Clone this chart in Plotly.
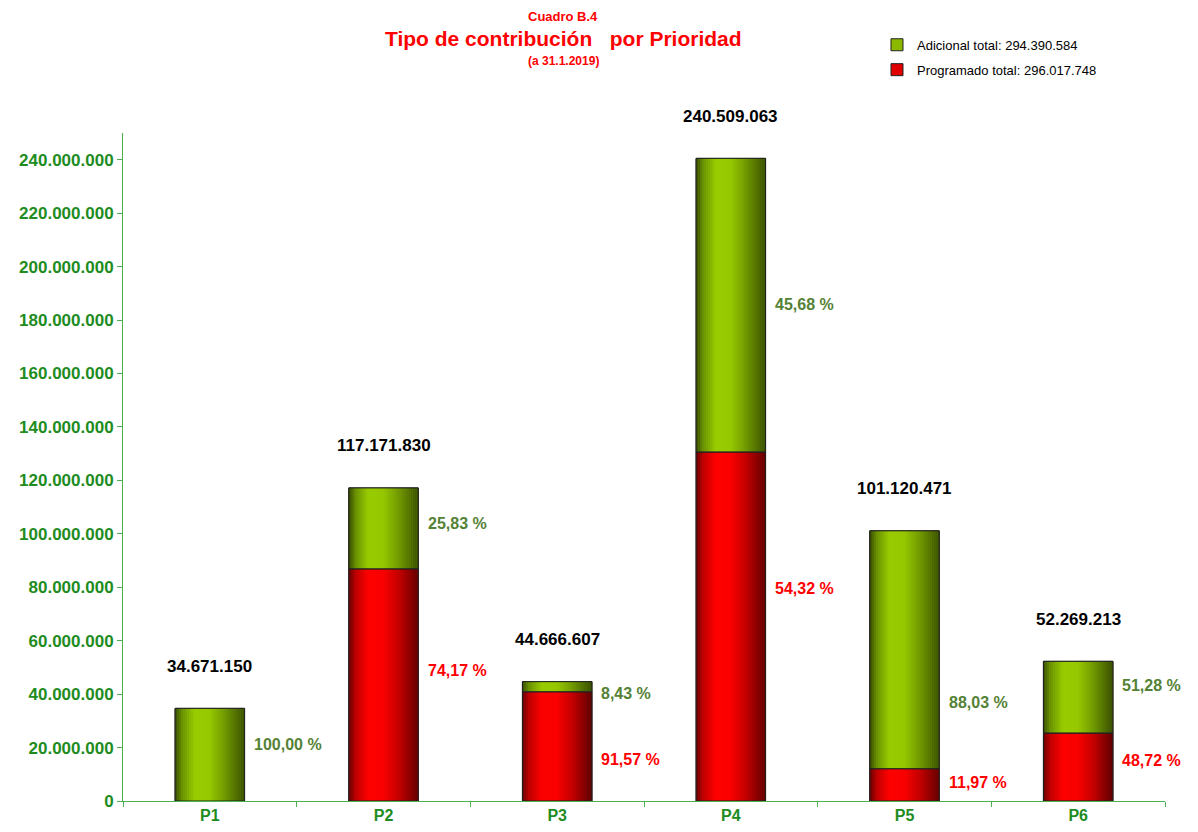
import plotly.graph_objects as go

categories = ["P1", "P2", "P3", "P4", "P5", "P6"]
totals = [34671150, 117171830, 44666607, 240509063, 101120471, 52269213]
programado = [0, 86906346, 40901212, 130644523, 12104120, 25465560]
adicional = [34671150, 30265484, 3765395, 109864540, 89016351, 26803653]
pct_adicional = ["100,00 %", "25,83 %", "8,43 %", "45,68 %", "88,03 %", "51,28 %"]
pct_programado = [None, "74,17 %", "91,57 %", "54,32 %", "11,97 %", "48,72 %"]
legend_adicional = "Adicional total: 294.390.584"
legend_programado = "Programado total: 296.017.748"

# label anchor heights (layout)
pct_adicional_y = [21e6, 104e6, 40.4e6, 185.8e6, 36.7e6, 43.4e6]
pct_programado_y = [None, 48.7e6, 15.7e6, 79.4e6, 7.1e6, 15.0e6]

FONT = "Arial, Liberation Sans, sans-serif"
BAR_W = 0.4

green_stops = [(0.0, (55, 75, 0)), (0.1, (105, 145, 0)), (0.28, (153, 204, 0)),
               (0.5, (150, 200, 0)), (0.72, (112, 152, 0)), (1.0, (58, 80, 0))]
red_stops = [(0.0, (100, 0, 0)), (0.1, (190, 0, 0)), (0.28, (255, 0, 0)),
             (0.5, (250, 0, 0)), (0.72, (195, 0, 0)), (1.0, (95, 0, 0))]


def interp(stops, t):
    for (t0, c0), (t1, c1) in zip(stops[:-1], stops[1:]):
        if t0 <= t <= t1:
            f = (t - t0) / (t1 - t0) if t1 > t0 else 0
            return "rgb(%d,%d,%d)" % tuple(round(a + (b - a) * f) for a, b in zip(c0, c1))
    return "rgb(%d,%d,%d)" % stops[-1][1]


fig = go.Figure()
N = 35
strip = BAR_W / N
prog_base = [0] * len(categories)

series = [
    (programado, prog_base, red_stops, "#E00000", legend_programado, "prog", 2),
    (adicional, programado, green_stops, "#8DB800", legend_adicional, "adic", 1),
]
for vals, base, stops, mid, name, grp, rank in series:
    fig.add_trace(go.Bar(x=categories, y=vals, base=base, width=BAR_W, name=name,
                         legendgroup=grp, legendrank=rank,
                         marker=dict(color=mid, line=dict(color="#222222", width=1)),
                         showlegend=True, hoverinfo="skip"))
    for i in range(N):
        t = (i + 0.5) / N
        fig.add_trace(go.Bar(x=categories, y=vals, base=base, width=strip * 1.15,
                             offset=-BAR_W / 2 + i * strip, legendgroup=grp, legendrank=rank,
                             marker=dict(color=interp(stops, t), line=dict(width=0)),
                             showlegend=False, hoverinfo="skip"))
    fig.add_trace(go.Bar(x=categories, y=vals, base=base, width=BAR_W, legendgroup=grp,
                         legendrank=rank,
                         marker=dict(color="rgba(0,0,0,0)", line=dict(color="#222222", width=1)),
                         showlegend=False, hoverinfo="skip"))

annotations = []
for c, tot in zip(categories, totals):
    annotations.append(dict(x=c, y=tot, xref="x", yref="y", yshift=42, showarrow=False,
                            text="{:,}".format(tot).replace(",", "."),
                            font=dict(family=FONT, size=17, color="black", weight="bold")))
for c, txt, yy in zip(categories, pct_adicional, pct_adicional_y):
    annotations.append(dict(x=c, y=yy, xref="x", yref="y", xshift=42, xanchor="left",
                            showarrow=False, text=txt,
                            font=dict(family=FONT, size=16, color="#548235", weight="bold")))
for c, txt, yy in zip(categories, pct_programado, pct_programado_y):
    if txt is None:
        continue
    annotations.append(dict(x=c, y=yy, xref="x", yref="y", xshift=42, xanchor="left",
                            showarrow=False, text=txt,
                            font=dict(family=FONT, size=16, color="#FF0000", weight="bold")))

annotations += [
    dict(x=0.4223, y=1.1737, xref="paper", yref="paper", showarrow=False, text="Cuadro B.4",
         xanchor="center", yanchor="middle",
         font=dict(family=FONT, size=13, color="#FF0000", weight="bold")),
    dict(x=0.4223, y=1.141, xref="paper", yref="paper", showarrow=False,
         text="Tipo de contribución&nbsp;&nbsp; por Prioridad",
         xanchor="center", yanchor="middle",
         font=dict(family=FONT, size=21, color="#FF0000", weight="bold")),
    dict(x=0.4223, y=1.108, xref="paper", yref="paper", showarrow=False, text="(a 31.1.2019)",
         xanchor="center", yanchor="middle",
         font=dict(family=FONT, size=12, color="#FF0000", weight="bold")),
]

fig.update_layout(
    width=1182, height=816,
    margin=dict(l=115, r=25, t=125, b=23, autoexpand=False),
    paper_bgcolor="white", plot_bgcolor="white",
    barmode="overlay",
    separators=",.",
    showlegend=True,
    legend=dict(x=0.7236, y=1.1545, xanchor="left", yanchor="top",
                font=dict(family=FONT, size=13, color="black"),
                traceorder="grouped", itemwidth=30, tracegroupgap=5,
                bgcolor="rgba(0,0,0,0)"),
    annotations=annotations,
    xaxis=dict(showgrid=False, showline=True, linecolor="#4CAF50", linewidth=1,
               ticks="outside", tickson="boundaries", ticklen=5, tickcolor="#4CAF50",
               tickfont=dict(family=FONT, size=16, color="#1E8C1E", weight="bold"),
               range=[-0.5, 5.5]),
    yaxis=dict(showgrid=False, showline=True, linecolor="#4CAF50", linewidth=1,
               range=[0, 250e6], dtick=20e6, tickformat=",d", zeroline=False,
               ticks="outside", ticklen=5, tickcolor="#4CAF50",
               tickfont=dict(family=FONT, size=17, color="#1E8C1E", weight="bold")),
)

fig.write_html("out.html")
